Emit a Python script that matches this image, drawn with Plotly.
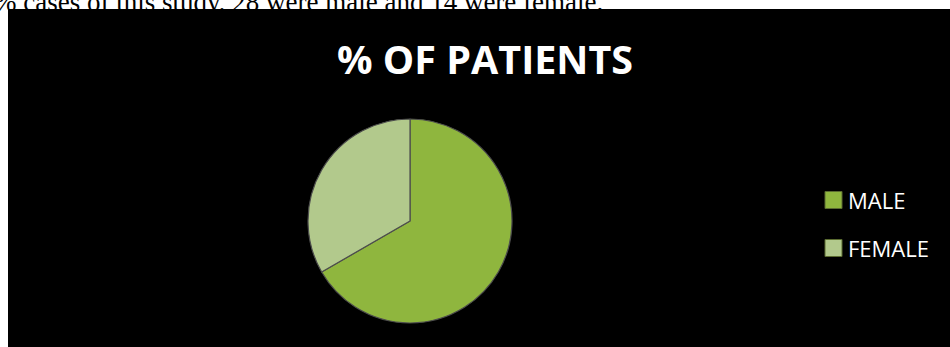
import plotly.graph_objects as go

# Patient counts by sex
labels = ["MALE", "FEMALE"]
patients = [28, 14]
slice_colors = ["#8fb63e", "#b2c98c"]

chart_title = "% OF PATIENTS"
caption = "% cases of this study, 28 were male and 14 were female."

W, H = 950, 347


def px_x(x):
    return x / W


def px_y(y):
    return 1 - y / H


fig = go.Figure()

# pie centred at (410, 221) px with radius ~102 px
cx, cy, r = 410, 221, 102
fig.add_trace(go.Pie(
    labels=labels,
    values=patients,
    sort=False,
    direction="clockwise",
    rotation=0,
    textinfo="none",
    hoverinfo="label+value+percent",
    marker=dict(colors=slice_colors, line=dict(color="#4d4d4d", width=1.2)),
    domain=dict(x=[px_x(cx - r), px_x(cx + r)], y=[px_y(cy + r), px_y(cy - r)]),
    showlegend=False,
))

shapes = [
    # black chart panel
    dict(type="rect", xref="paper", yref="paper",
         x0=px_x(8), x1=1, y0=0, y1=px_y(9),
         fillcolor="black", line=dict(width=0), layer="below"),
]

annotations = [
    # running text line above the panel
    dict(text=caption, xref="paper", yref="paper", x=px_x(-8), y=px_y(2),
         xanchor="left", yanchor="middle", showarrow=False,
         font=dict(family="Liberation Serif", size=27, color="black")),
    dict(text="<b>" + chart_title + "</b>", xref="paper", yref="paper",
         x=px_x(485), y=px_y(59), xanchor="center", yanchor="middle",
         showarrow=False,
         font=dict(family="Open Sans", size=39.5, color="white")),
]

# legend: swatch + label per category
for i, (lab, col) in enumerate(zip(labels, slice_colors)):
    yc = 200 + 48 * i
    shapes.append(dict(type="rect", xref="paper", yref="paper",
                       x0=px_x(825), x1=px_x(842),
                       y0=px_y(yc + 8.5), y1=px_y(yc - 8.5),
                       fillcolor=col, line=dict(color="#5a6b30", width=1)))
    annotations.append(dict(text=lab, xref="paper", yref="paper",
                            x=px_x(846), y=px_y(yc), xanchor="left",
                            yanchor="middle", showarrow=False,
                            font=dict(family="Open Sans", size=22, color="white")))

fig.update_layout(
    width=W, height=H,
    margin=dict(l=0, r=0, t=0, b=0),
    paper_bgcolor="white",
    plot_bgcolor="white",
    shapes=shapes,
    annotations=annotations,
)

fig.write_html("out.html")
